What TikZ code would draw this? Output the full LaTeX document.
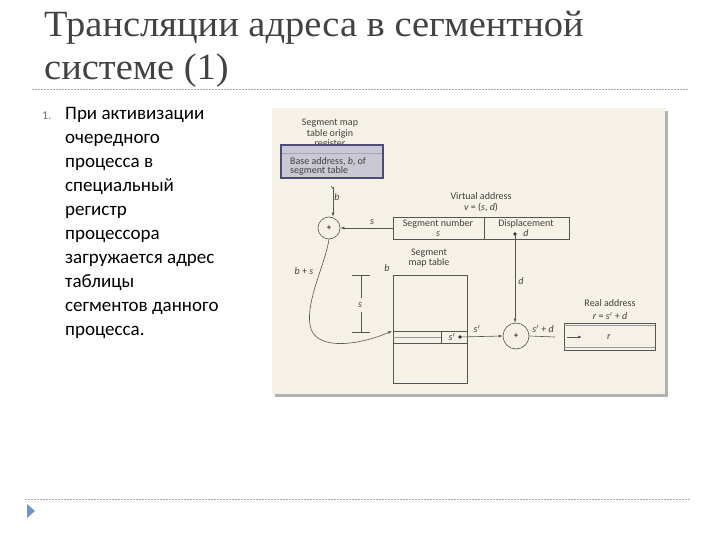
\documentclass[tikz,border=0pt]{standalone}
\usepackage{fontspec}
\setmainfont{Carlito}
\newfontfamily\titlefont[FakeStretch=1.04]{Liberation Serif}
\usetikzlibrary{arrows.meta}
\definecolor{titlegray}{HTML}{424242}
\definecolor{panel}{HTML}{F6F1E6}
\definecolor{dline}{HTML}{555555}
\definecolor{regfill}{HTML}{C9C8D3}
\definecolor{regborder}{HTML}{4D4B78}
\definecolor{bullet}{HTML}{6E93C4}
\tikzset{
  titletext/.style={font=\titlefont\fontsize{37}{37}\selectfont, text=titlegray, inner sep=0pt, anchor=base west},
  bodytext/.style={font=\fontsize{19}{22}\selectfont, inner sep=0pt, anchor=base west},
  dtext/.style={font=\fontsize{10}{10.5}\selectfont, text=black!75, inner sep=0pt, align=center},
  dl/.style={draw=dline, line width=0.6pt},
  arr/.style={dl, -{Latex[length=4pt,width=3pt]}},
  sep/.style={draw=black!35, line width=0.8pt, dash pattern=on 2pt off 1pt},
}
\begin{document}
\begin{tikzpicture}[x=1pt,y=-1pt]
\useasboundingbox (0,0) rectangle (720,540);
\fill[white] (0,0) rectangle (720,540);
% title
\node[titletext] (t1) at (44,37) {Трансляции адреса в сегментной};
\node[titletext] (t2) at (44,80) {системе (1)};
\draw[sep] (32,89) -- (688,89);
\draw[sep] (25,499) -- (690,499);
\fill[bullet] (27,504) -- (35,511) -- (27,518) -- cycle;
% body
\node[font=\fontsize{12}{14}\selectfont, text=black!55, inner sep=0pt, anchor=base west] (num) at (42,120) {1.};
\foreach \t [count=\i] in {При активизации, очередного, процесса в, специальный, регистр, процессора, загружается адрес, таблицы, сегментов данного, процесса.}
  \node[bodytext] (b\i) at (65,{120+23.9*(\i-1)}) {\t};
% panel
\fill[black!30] (275,111) rectangle (668,397);
\fill[panel] (272,108) rectangle (665,394);
% register
\node[dtext] (regt) at (330,134) {Segment map\\ table origin\\ register};
\filldraw[fill=regfill, draw=regborder, line width=1.6pt] (281,145) rectangle (383,178);
\draw[regborder!50, line width=0.6pt] (282,153) -- (382,153);
\node[dtext, align=left, anchor=north west] (rega) at (290,157) {Base address, \textit{b}, of\\[-1pt] segment table};
% adder 1
\node[circle, dl, minimum size=22pt, inner sep=0pt, fill=panel] (c1) at (329,228) {\fontsize{9}{9}\selectfont +};
\coordinate (bstart) at (333,187);
\draw[arr] (bstart) -- (c1.north -| bstart);
\draw[dl] (331,186) -- (334,190);
\node[dtext] (lb) at (337,197) {\textit{b}};
% virtual address
\node[dtext] (vat) at (481,202) {Virtual address\\ \textit{v} = (\textit{s}, \textit{d})};
\draw[dl] (393,217) rectangle (569,239);
\draw[dl] (484,217) -- (484,239);
\node[dtext] (segn) at (438,228) {Segment number\\[-1pt] \textit{s}};
\node[dtext] (disp) at (526,228) {Displacement\\[-1pt] \textit{d}};
\coordinate (vleft) at (393,228);
\draw[arr] (vleft) -- (c1.east);
\node[dtext] (ls) at (372,222) {\textit{s}};
% segment map table
\node[dtext] (smt) at (429,258) {Segment\\ map table};
\node[dtext] (lb2) at (387,268) {\textit{b}};
\draw[dl] (393,275) rectangle (467,383);
\draw[dl] (393,331) -- (467,331);
\draw[dl] (393,343) -- (467,343);
\draw[draw=dline!60, line width=0.4pt] (393,337) -- (441,337);
\draw[dl] (441,331) -- (441,343);
\node[dtext] (sp) at (452,337) {\textit{s}$'$};
\fill[black!80] (460,337) circle (1.8pt);
\coordinate (sdot) at (460,337);
% dimension s
\draw[dl] (352,275) -- (370,275);
\draw[dl] (352,332) -- (370,332);
\draw[dl] (361,275) -- (361,298);
\draw[dl] (361,312) -- (361,332);
\node[dtext] (ldim) at (360,305) {\textit{s}};
% curve b+s
\coordinate (rowin) at (392,331);
\draw[arr] (c1.south) .. controls (325,265) and (306,300) .. (310,325) .. controls (314,352) and (360,345) .. (rowin);
\node[dtext] (lbs) at (304,271) {\textit{b} + \textit{s}};
% adder 2
\node[circle, dl, minimum size=26pt, inner sep=0pt, fill=panel] (c2) at (516,336) {\fontsize{9}{9}\selectfont +};
\draw[arr] (sdot) -- (c2.west);
\node[dtext] (lsp) at (477,329) {\textit{s}$'$};
\fill[black!80] (515,234) circle (1.8pt);
\coordinate (ddot) at (515,234);
\draw[arr] (ddot) -- (c2.north -| ddot);
\node[dtext] (ld) at (521,281) {\textit{d}};
\coordinate (outend) at (555,337);
\draw[dl] (c2.east) -- (outend);
\node[dtext] (lsd) at (543,329) {\textit{s}$'$ + \textit{d}};
% real address
\node[dtext] (rat) at (610,303) {Real address};
\node[dtext] (rat2) at (610,316) {\textit{r} = \textit{s}$'$ + \textit{d}};
\draw[dl] (564,323) rectangle (655,350);
\draw[draw=dline!60, line width=0.4pt] (564,325.5) -- (655,325.5);
\draw[draw=dline!60, line width=0.4pt] (564,347.5) -- (655,347.5);
\coordinate (ra1) at (567,337);
\coordinate (ra2) at (582,337);
\draw[arr] (ra1) -- (ra2);
\node[dtext] (rr) at (609,337) {\textit{r}};
\end{tikzpicture}
\end{document}
